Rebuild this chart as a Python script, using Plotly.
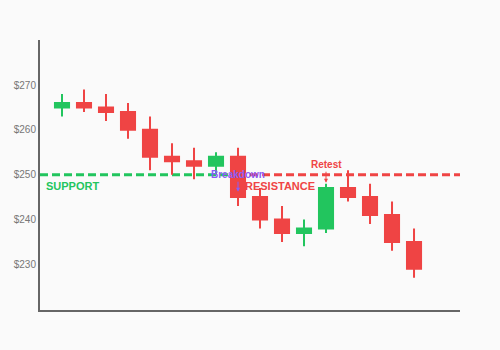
import plotly.graph_objects as go

idx = list(range(17))
opens  = [265, 266, 265, 264, 260, 254, 253, 252, 254, 245, 240, 237, 238, 247, 245, 241, 235]
highs  = [268, 269, 268, 266, 263, 257, 256, 255, 256, 247, 243, 240, 248, 251, 248, 244, 238]
lows   = [263, 264, 262, 258, 251, 250, 249, 250, 243, 238, 235, 234, 237, 244, 239, 233, 227]
closes = [266, 265, 264, 260, 254, 253, 252, 254, 245, 240, 237, 238, 247, 245, 241, 235, 229]

support_level = 250
resistance_level = 250
breakdown_idx = 8
retest_idx = 12
tick_vals = [230, 240, 250, 260, 270]
tick_text = ["$230", "$240", "$250", "$260", "$270"]

GREEN = "#22c55e"
RED = "#ef4444"
PURPLE = "#8b5cf6"

fig = go.Figure()
fig.add_trace(go.Candlestick(
    x=idx, open=opens, high=highs, low=lows, close=closes,
    increasing=dict(line=dict(color=GREEN, width=2), fillcolor=GREEN),
    decreasing=dict(line=dict(color=RED, width=2), fillcolor=RED),
    whiskerwidth=0, hoverinfo="skip", showlegend=False,
))

fig.add_shape(type="line", xref="x", yref="y", x0=-1, x1=breakdown_idx,
              y0=support_level, y1=support_level, layer="below",
              line=dict(color=GREEN, width=3, dash="8px,4px"))
fig.add_shape(type="line", xref="x", yref="y", x0=breakdown_idx, x1=18.09,
              y0=resistance_level, y1=resistance_level, layer="below",
              line=dict(color=RED, width=3, dash="8px,4px"))

fig.add_annotation(x=-0.82, y=247.55, text="<b>SUPPORT</b>", showarrow=False,
                   xanchor="left", yanchor="middle",
                   font=dict(family="Arial", size=11, color=GREEN))
fig.add_annotation(x=8.23, y=247.55, text="<b>RESISTANCE</b>", showarrow=False,
                   xanchor="left", yanchor="middle",
                   font=dict(family="Arial", size=11, color=RED))
fig.add_annotation(x=breakdown_idx, y=246.2, text="<b>Breakdown</b>", showarrow=True,
                   ax=0, ay=-17, arrowhead=2, arrowsize=0.8, arrowwidth=1,
                   arrowcolor=PURPLE,
                   font=dict(family="Arial", size=10, color=PURPLE))
fig.add_annotation(x=retest_idx, y=248.2, text="<b>Retest</b>", showarrow=True,
                   ax=0, ay=-18, arrowhead=2, arrowsize=0.8, arrowwidth=1,
                   arrowcolor=RED,
                   font=dict(family="Arial", size=10, color=RED))

fig.update_layout(
    width=500, height=350,
    margin=dict(l=40, r=40, t=40, b=40),
    paper_bgcolor="#fafafa", plot_bgcolor="#fafafa",
    font=dict(family="Arial", size=10, color="#777"),
    boxgap=0.2, boxgroupgap=0.2,
    xaxis=dict(range=[-1, 18.09], showticklabels=False, ticks="", showgrid=False,
               zeroline=False, showline=True, linecolor="#666", linewidth=2,
               rangeslider=dict(visible=False), fixedrange=True),
    yaxis=dict(range=[219.8, 280.05], tickvals=tick_vals, ticktext=tick_text,
               showgrid=False, zeroline=False, showline=True, linecolor="#666",
               linewidth=2, ticks="", tickfont=dict(size=10, color="#777"),
               fixedrange=True),
    showlegend=False,
)

fig.write_html("out.html")
